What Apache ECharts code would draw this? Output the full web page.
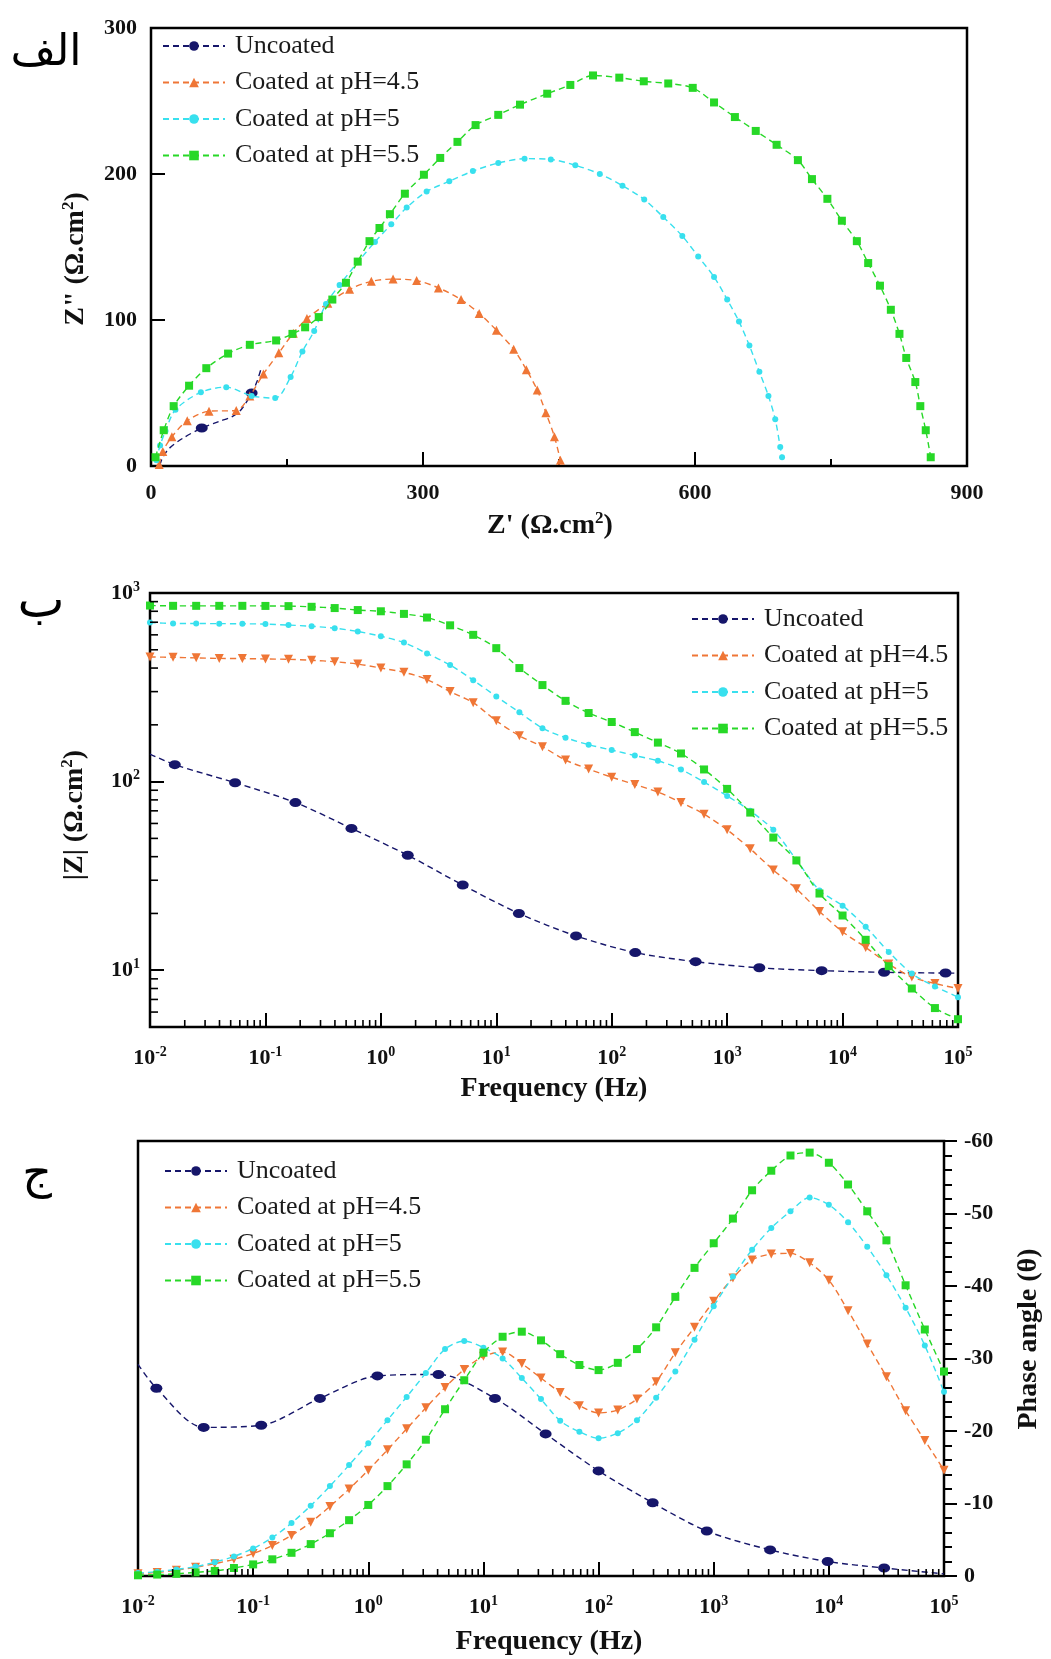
<!DOCTYPE html>
<html><head><meta charset="utf-8">
<script src="https://cdn.jsdelivr.net/npm/echarts@6/dist/echarts.min.js"></script>
<style>html,body{margin:0;padding:0;background:#fff}#c{width:1051px;height:1659px}</style>
</head><body><div id="c"></div>
<script>
// ---------------- DATA ----------------
const seriesNames = ['Uncoated', 'Coated at pH=4.5', 'Coated at pH=5', 'Coated at pH=5.5'];
const panelLabels = ['الف', 'ب', 'ج'];

// Panel A: Nyquist (Z' , Z'')
const nyqUncoatedRe = [9.7, 13, 20, 35, 56, 75, 90, 100, 111, 117, 122];
const nyqUncoatedIm = [0.5, 6, 12, 19, 26, 30.5, 34, 39, 50, 58, 68];
const nyqUncoatedMarker = [0, 0, 0, 0, 1, 0, 0, 0, 1, 0, 0];
const nyqPh45Re = [9, 13, 23, 40, 64, 94, 109, 124, 141, 157, 172, 195, 219, 243, 267, 293, 317, 342, 362, 381, 400, 414, 426, 435.5, 445, 451.5];
const nyqPh45Im = [1, 10, 20, 31, 37.5, 38, 48, 63, 77.5, 91, 101, 111.5, 121, 126.5, 128, 127, 122, 114, 104.5, 93, 80, 66, 52, 36.5, 20, 4];
const nyqPh5Re = [6, 10, 16, 27, 55, 83, 111, 137, 154, 167, 180, 193, 208, 228, 247, 265, 282, 304, 329, 355, 383, 412, 441, 468, 495, 520, 544, 565, 586, 603.5, 621, 635.5, 648.5, 660, 671, 681, 688.5, 694, 696];
const nyqPh5Im = [4, 14, 24, 38.5, 50.5, 54, 48, 46.5, 61, 78.5, 92.5, 111, 124, 139.5, 153.5, 165.5, 177, 188, 195, 202, 207.5, 210.5, 210, 206, 200, 192, 182.5, 170.5, 157.5, 143.5, 129.5, 114, 99, 82.5, 64.5, 48, 32, 13, 6];
const nyqPh55Re = [5, 14, 25, 42, 61, 85, 109, 138, 156, 170, 185, 200, 215, 228, 241, 252, 263.5, 280, 301, 319, 338, 358, 383, 407, 437, 462.5, 487.5, 516.5, 543.5, 570.5, 597.5, 621, 644, 667, 690, 713.5, 729, 746, 762, 778.5, 791, 804, 816, 825.5, 833, 843, 848.5, 854.5, 860];
const nyqPh55Im = [6, 24.5, 41, 55, 67, 77, 83, 86, 90.5, 95, 102, 114, 125.5, 140, 154, 163, 172.5, 186.5, 199.5, 211, 222, 233.5, 240.5, 247.5, 255, 261, 267.5, 266, 263.5, 262, 259, 249, 239, 229.5, 220, 209.5, 196.5, 183, 168, 154, 139, 123.5, 107, 90.5, 74, 57.5, 41, 24.5, 6];

// Panel B: Bode |Z|
const bodeUncoatedFreq = [0.01, 0.0164, 0.0546, 0.182, 0.556, 1.71, 5.12, 15.7, 49.1, 160, 533, 1900, 6590, 22900, 78000, 100000];
const bodeUncoatedZ = [140, 123, 98.6, 77.4, 56.5, 40.7, 28.3, 20.0, 15.2, 12.4, 11.1, 10.3, 9.95, 9.75, 9.66, 9.65];
const bodeUncoatedMarker = [0, 1, 1, 1, 1, 1, 1, 1, 1, 1, 1, 1, 1, 1, 1, 0];
const bodeFreq = [0.01, 0.01585, 0.02512, 0.03981, 0.0631, 0.1, 0.1585, 0.2512, 0.3981, 0.631, 1, 1.585, 2.512, 3.981, 6.31, 10, 15.85, 25.12, 39.81, 63.1, 100, 158.5, 251.2, 398.1, 631, 1000, 1585, 2512, 3981, 6310, 10000, 15850, 25120, 39810, 63100, 100000];
const bodePh45Z = [458, 456, 453, 450, 449, 447, 445, 440, 432, 420, 400, 380, 348, 300, 262, 210, 175, 153, 130, 116.5, 105.5, 96.5, 88, 77.6, 67.2, 55.5, 44, 34, 27, 20.5, 16, 13.2, 10.8, 9.2, 8.5, 8.0];
const bodePh5Z = [697, 690, 689, 688, 687, 684, 676, 666, 651, 625, 590, 546, 478, 415, 345, 283, 233, 192, 171, 157, 147, 137.5, 129, 116, 99.5, 84, 70, 55.5, 38.5, 26.5, 22, 17, 12.5, 9.6, 8.2, 7.2];
const bodePh55Z = [858, 855, 855, 855, 855, 854, 852, 845, 832, 812, 800, 775, 741, 674, 600, 510, 400, 325, 268, 231, 207, 183, 161, 141, 116, 91.5, 68.5, 50.5, 38.2, 25.5, 19.5, 14.5, 10.5, 8.0, 6.3, 5.5];

// Panel C: phase angle
const phaseUncoatedFreq = [0.01, 0.01445, 0.0372, 0.1175, 0.380, 1.20, 4.07, 12.6, 34.7, 100, 295, 871, 3090, 9772, 30200, 100000];
const phaseUncoated = [-29.2, -25.9, -20.5, -20.8, -24.5, -27.6, -27.8, -24.5, -19.6, -14.5, -10.1, -6.2, -3.6, -2.0, -1.1, -0.3];
const phaseUncoatedMarker = [0, 1, 1, 1, 1, 1, 1, 1, 1, 1, 1, 1, 1, 1, 1, 0];
const phaseFreq = [0.01, 0.01468, 0.02154, 0.03162, 0.04642, 0.06813,
  0.1, 0.1468, 0.2154, 0.3162, 0.4642, 0.6813,
  1, 1.468, 2.154, 3.162, 4.642, 6.813,
  10, 14.68, 21.54, 31.62, 46.42, 68.13,
  100, 146.8, 215.4, 316.2, 464.2, 681.3,
  1000, 1468, 2154, 3162, 4642, 6813,
  10000, 14678, 21544, 31623, 46416, 68129, 100000];
const phasePh45 = [-0.3, -0.5, -0.8, -1.2, -1.7, -2.3, -3.1, -4.2, -5.6, -7.4, -9.6, -12.0, -14.6, -17.4, -20.3, -23.2, -26.0, -28.5, -30.3, -30.9, -29.3, -27.3, -25.3, -23.5, -22.5, -22.9, -24.4, -26.8, -30.8, -34.3, -37.9, -41.1, -43.6, -44.4, -44.5, -43.2, -40.8, -36.6, -32.0, -27.5, -22.8, -18.7, -14.6];
const phasePh5 = [-0.4, -0.6, -0.9, -1.3, -1.9, -2.7, -3.8, -5.3, -7.3, -9.7, -12.4, -15.3, -18.3, -21.5, -24.7, -28.0, -31.3, -32.4, -31.5, -30.0, -27.3, -24.4, -21.4, -19.9, -19.0, -19.7, -21.5, -24.6, -28.2, -32.6, -37.2, -41.3, -45.0, -48.0, -50.3, -52.2, -51.2, -48.8, -45.4, -41.5, -37.0, -31.8, -25.4];
const phasePh55 = [-0.1, -0.2, -0.3, -0.5, -0.7, -1.1, -1.6, -2.3, -3.2, -4.4, -5.9, -7.7, -9.8, -12.4, -15.4, -18.8, -23.0, -27.0, -30.8, -33.0, -33.7, -32.5, -30.6, -29.1, -28.4, -29.4, -31.3, -34.3, -38.5, -42.5, -45.9, -49.3, -53.2, -55.9, -58.0, -58.4, -57.0, -54.0, -50.3, -46.3, -40.1, -34.0, -28.2];

// ---------------- STYLE ----------------
const FONT = 'Liberation Serif';
const colors = ['#16166a', '#ef7636', '#38e0ee', '#27d827'];
const symbols = ['circle', 'triangle', 'circle', 'rect'];
const symbolSizes = [[12, 9], 9, 6, 8];

function pairs(xs, ys, marks) {
  return xs.map((x, i) => {
    const item = { value: [x, ys[i]] };
    if (marks && !marks[i]) item.symbol = 'none';
    return item;
  });
}
function lineSeries(idx, gridIdx, data, extra) {
  return Object.assign({
    type: 'line', name: seriesNames[idx], xAxisIndex: gridIdx, yAxisIndex: gridIdx,
    data: data, smooth: 0.3, symbol: symbols[idx], symbolSize: symbolSizes[idx],
    showSymbol: true, clip: true, z: 3 + idx,
    itemStyle: { color: colors[idx] },
    lineStyle: { color: colors[idx], width: 1.4, type: [6, 4] },
    emphasis: { disabled: true }
  }, extra || {});
}
function logLabel(v) {
  const e = Math.log10(v), r = Math.round(e);
  if (Math.abs(e - r) > 1e-6) return '';
  return '10{s|' + r + '}';
}
const supRich = { s: { fontSize: 14, fontFamily: FONT, fontWeight: 'bold', color: '#111', padding: [0, 0, 12, 0] } };
const nameRich = { s: { fontSize: 17, fontFamily: FONT, fontWeight: 'bold', color: '#111', padding: [0, 0, 14, 0] } };
const labelStyle = { fontFamily: FONT, fontWeight: 'bold', fontSize: 22, color: '#111' };
function nameStyle(pad) {
  return { fontFamily: FONT, fontWeight: 'bold', fontSize: 28, color: '#111', padding: pad, rich: nameRich };
}
const tickStyle = { color: '#000', width: 2 };

// minor log ticks drawn through axis scale
function minorLogValues(lo, hi) {
  const out = [];
  for (let k = Math.floor(Math.log10(lo)); k <= Math.ceil(Math.log10(hi)); k++) {
    for (let m = 2; m <= 9; m++) {
      const v = m * Math.pow(10, k);
      if (v > lo && v < hi) out.push(v);
    }
  }
  return out;
}
function minorTickSeries(gridIdx, dim, values, ref, len) {
  return {
    type: 'custom', xAxisIndex: gridIdx, yAxisIndex: gridIdx, silent: true, z: 10,
    data: values.map(v => dim === 'x' ? [v, ref] : [ref, v]),
    renderItem: function (params, api) {
      const cs = params.coordSys;
      if (dim === 'x') {
        const px = api.coord([api.value(0), ref])[0];
        return { type: 'line', shape: { x1: px, y1: cs.y + cs.height, x2: px, y2: cs.y + cs.height - len }, style: { stroke: '#000', lineWidth: 1.6 } };
      } else {
        const py = api.coord([ref, api.value(1)])[1];
        return { type: 'line', shape: { x1: cs.x, y1: py, x2: cs.x + len, y2: py }, style: { stroke: '#000', lineWidth: 1.6 } };
      }
    }
  };
}
function legendAt(left, top) {
  return {
    orient: 'vertical', left: left, top: top, itemWidth: 62, itemHeight: 12, itemGap: 10.5,
    selectedMode: false, data: seriesNames,
    textStyle: { fontFamily: FONT, fontWeight: 'normal', fontSize: 26, color: '#1a1a1a', lineHeight: 25.5, padding: [0, 0, 0, 5] }
  };
}

const option = {
  animation: false,
  backgroundColor: '#fff',
  textStyle: { fontFamily: FONT },
  grid: [
    { left: 151, top: 28, width: 816, height: 438, show: true, borderColor: '#000', borderWidth: 2.5, containLabel: false },
    { left: 150, top: 593, width: 808, height: 434, show: true, borderColor: '#000', borderWidth: 2.5, containLabel: false },
    { left: 138, top: 1141, width: 814, height: 435, show: true, borderColor: '#000', borderWidth: 2.5, containLabel: false }
  ],
  legend: [legendAt(157, 28), legendAt(686, 601), legendAt(159, 1153)],
  xAxis: [
    {
      gridIndex: 0, type: 'value', min: 0, max: 900, interval: 300,
      axisLine: { show: false }, splitLine: { show: false },
      axisTick: { inside: true, length: 14, lineStyle: tickStyle },
      minorTick: { show: true, splitNumber: 2, length: 7, lineStyle: tickStyle },
      axisLabel: Object.assign({ margin: 16 }, labelStyle),
      name: "Z' (Ω.cm{s|2})", nameLocation: 'middle', nameGap: 44, nameTextStyle: nameStyle([0, 18, 0, 0])
    },
    {
      gridIndex: 1, type: 'log', logBase: 10, min: 0.01, max: 100000,
      axisLine: { show: false }, splitLine: { show: false },
      axisTick: { inside: true, length: 14, lineStyle: tickStyle },
      axisLabel: Object.assign({ margin: 18, formatter: logLabel, rich: supRich }, labelStyle),
      name: 'Frequency (Hz)', nameLocation: 'middle', nameGap: 48, nameTextStyle: nameStyle([0, 0, 0, 0])
    },
    {
      gridIndex: 2, type: 'log', logBase: 10, min: 0.01, max: 100000,
      axisLine: { show: false }, splitLine: { show: false },
      axisTick: { inside: true, length: 14, lineStyle: tickStyle },
      axisLabel: Object.assign({ margin: 18, formatter: logLabel, rich: supRich }, labelStyle),
      name: 'Frequency (Hz)', nameLocation: 'middle', nameGap: 52, nameTextStyle: nameStyle([0, 0, 0, 16])
    }
  ],
  yAxis: [
    {
      gridIndex: 0, type: 'value', min: 0, max: 300, interval: 100,
      axisLine: { show: false }, splitLine: { show: false },
      axisTick: { inside: true, length: 14, lineStyle: tickStyle },
      axisLabel: Object.assign({ margin: 14 }, labelStyle),
      name: 'Z" (Ω.cm{s|2})', nameLocation: 'middle', nameGap: 60, nameTextStyle: nameStyle([0, 24, 0, 0])
    },
    {
      gridIndex: 1, type: 'log', logBase: 10, min: 5, max: 1000,
      axisLine: { show: false }, splitLine: { show: false },
      axisTick: { inside: true, length: 14, lineStyle: tickStyle },
      axisLabel: Object.assign({ margin: 10, formatter: logLabel, rich: supRich }, labelStyle),
      name: '|Z| (Ω.cm{s|2})', nameLocation: 'middle', nameGap: 60, nameTextStyle: nameStyle([0, 10, 0, 0])
    },
    {
      gridIndex: 2, type: 'value', position: 'right', inverse: true, min: -60, max: 0, interval: 10,
      axisLine: { show: false }, splitLine: { show: false },
      axisTick: { inside: false, length: 13, lineStyle: tickStyle },
      minorTick: { show: true, splitNumber: 5, length: 8, lineStyle: tickStyle },
      axisLabel: Object.assign({ margin: 20 }, labelStyle),
      name: 'Phase angle (θ)', nameLocation: 'middle', nameGap: 71, nameTextStyle: nameStyle([0, 0, 0, 39])
    }
  ],
  graphic: [
    { type: 'text', x: 46, y: 54, style: { text: panelLabels[0], font: '44px "DejaVu Sans"', fill: '#000', align: 'center', verticalAlign: 'middle' } },
    { type: 'text', x: 41, y: 604, style: { text: panelLabels[1], font: '50px "DejaVu Sans"', fill: '#000', align: 'center', verticalAlign: 'middle' } },
    { type: 'text', x: 37, y: 1176, style: { text: panelLabels[2], font: '46px "DejaVu Sans"', fill: '#000', align: 'center', verticalAlign: 'middle' } }
  ],
  series: [
    // Panel A
    lineSeries(0, 0, pairs(nyqUncoatedRe, nyqUncoatedIm, nyqUncoatedMarker)),
    lineSeries(1, 0, pairs(nyqPh45Re, nyqPh45Im)),
    lineSeries(2, 0, pairs(nyqPh5Re, nyqPh5Im)),
    lineSeries(3, 0, pairs(nyqPh55Re, nyqPh55Im)),
    // Panel B
    lineSeries(0, 1, pairs(bodeUncoatedFreq, bodeUncoatedZ, bodeUncoatedMarker)),
    lineSeries(1, 1, pairs(bodeFreq, bodePh45Z), { symbolRotate: 180 }),
    lineSeries(2, 1, pairs(bodeFreq, bodePh5Z)),
    lineSeries(3, 1, pairs(bodeFreq, bodePh55Z)),
    // Panel C
    lineSeries(0, 2, pairs(phaseUncoatedFreq, phaseUncoated, phaseUncoatedMarker)),
    lineSeries(1, 2, pairs(phaseFreq, phasePh45), { symbolRotate: 180 }),
    lineSeries(2, 2, pairs(phaseFreq, phasePh5)),
    lineSeries(3, 2, pairs(phaseFreq, phasePh55)),
    // minor log ticks
    minorTickSeries(1, 'x', minorLogValues(0.01, 100000), 10, 7),
    minorTickSeries(1, 'y', minorLogValues(5, 1000), 1, 8),
    minorTickSeries(2, 'x', minorLogValues(0.01, 100000), -10, 7)
  ]
};

const chart = echarts.init(document.getElementById('c'), null, { renderer: 'canvas' });
chart.setOption(option);
</script></body></html>
